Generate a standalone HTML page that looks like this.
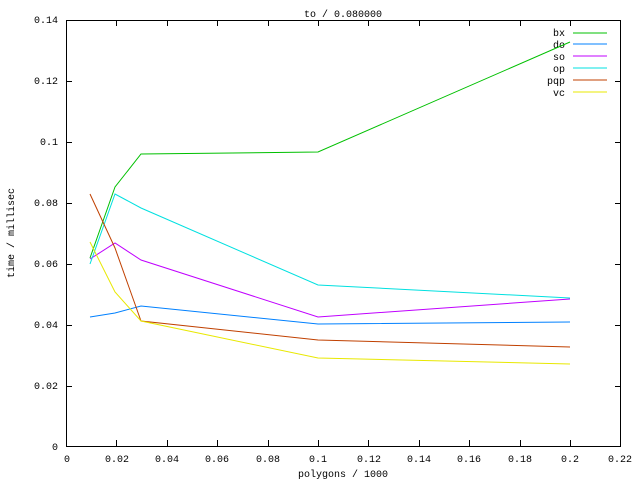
<!DOCTYPE html>
<html><head><style>body{margin:0;background:#fff}svg{display:block}</style></head><body>
<svg width="640" height="480" xmlns="http://www.w3.org/2000/svg" font-family="Liberation Mono, DejaVu Sans Mono, monospace" font-size="10">
<rect width="640" height="480" fill="#fff"/>
<g stroke="#000" stroke-width="1" fill="none" shape-rendering="crispEdges">
<rect x="66.5" y="20.5" width="554" height="426"/>
<path d="M66 386.5h6M621 386.5h-6M66 325.5h6M621 325.5h-6M66 264.5h6M621 264.5h-6M66 203.5h6M621 203.5h-6M66 142.5h6M621 142.5h-6M66 81.5h6M621 81.5h-6"/>
<path d="M116.5 446v-6M116.5 20v6M167.5 446v-6M167.5 20v6M217.5 446v-6M217.5 20v6M268.5 446v-6M268.5 20v6M318.5 446v-6M318.5 20v6M368.5 446v-6M368.5 20v6M419.5 446v-6M419.5 20v6M469.5 446v-6M469.5 20v6M520.5 446v-6M520.5 20v6M570.5 446v-6M570.5 20v6"/>
</g>
<g text-anchor="end">
<text x="58" y="450">0</text><text x="58" y="389">0.02</text><text x="58" y="328">0.04</text><text x="58" y="267">0.06</text><text x="58" y="206">0.08</text><text x="58" y="145">0.1</text><text x="58" y="84">0.12</text><text x="58" y="23">0.14</text>
</g>
<g text-anchor="middle">
<text x="67" y="462">0</text><text x="117" y="462">0.02</text><text x="167" y="462">0.04</text><text x="217" y="462">0.06</text><text x="268" y="462">0.08</text><text x="318" y="462">0.1</text><text x="369" y="462">0.12</text><text x="419" y="462">0.14</text><text x="469" y="462">0.16</text><text x="520" y="462">0.18</text><text x="570" y="462">0.2</text><text x="620" y="462">0.22</text>
<text x="343" y="477">polygons / 1000</text>
<text x="343" y="17">to / 0.080000</text>
<text transform="translate(14,233) rotate(-90)">time / millisec</text>
</g>
<g text-anchor="end">
<text x="565" y="36">bx</text><text x="565" y="48">do</text><text x="565" y="60">so</text><text x="565" y="72">op</text><text x="565" y="84">pqp</text><text x="565" y="96">vc</text>
</g>
<g fill="none" stroke-width="1">
<path stroke="#00c000" d="M573 33h34M90 258L115 187L141 154L318 152L570 42"/>
<path stroke="#0080ff" d="M573 44h34M90 317L115 313L141 306L318 324L570 322"/>
<path stroke="#c000ff" d="M573 56h34M90 259L115 243L141 260L318 317L570 299"/>
<path stroke="#00e0e0" d="M573 68h34M90 264L115 194L141 208L318 285L570 298"/>
<path stroke="#c04000" d="M573 80h34M90 194L115 248L141 321L318 340L570 347"/>
<path stroke="#e8e800" d="M573 92h34M90 242L115 292L141 321L318 358L570 364"/>
</g>
</svg>
</body></html>
